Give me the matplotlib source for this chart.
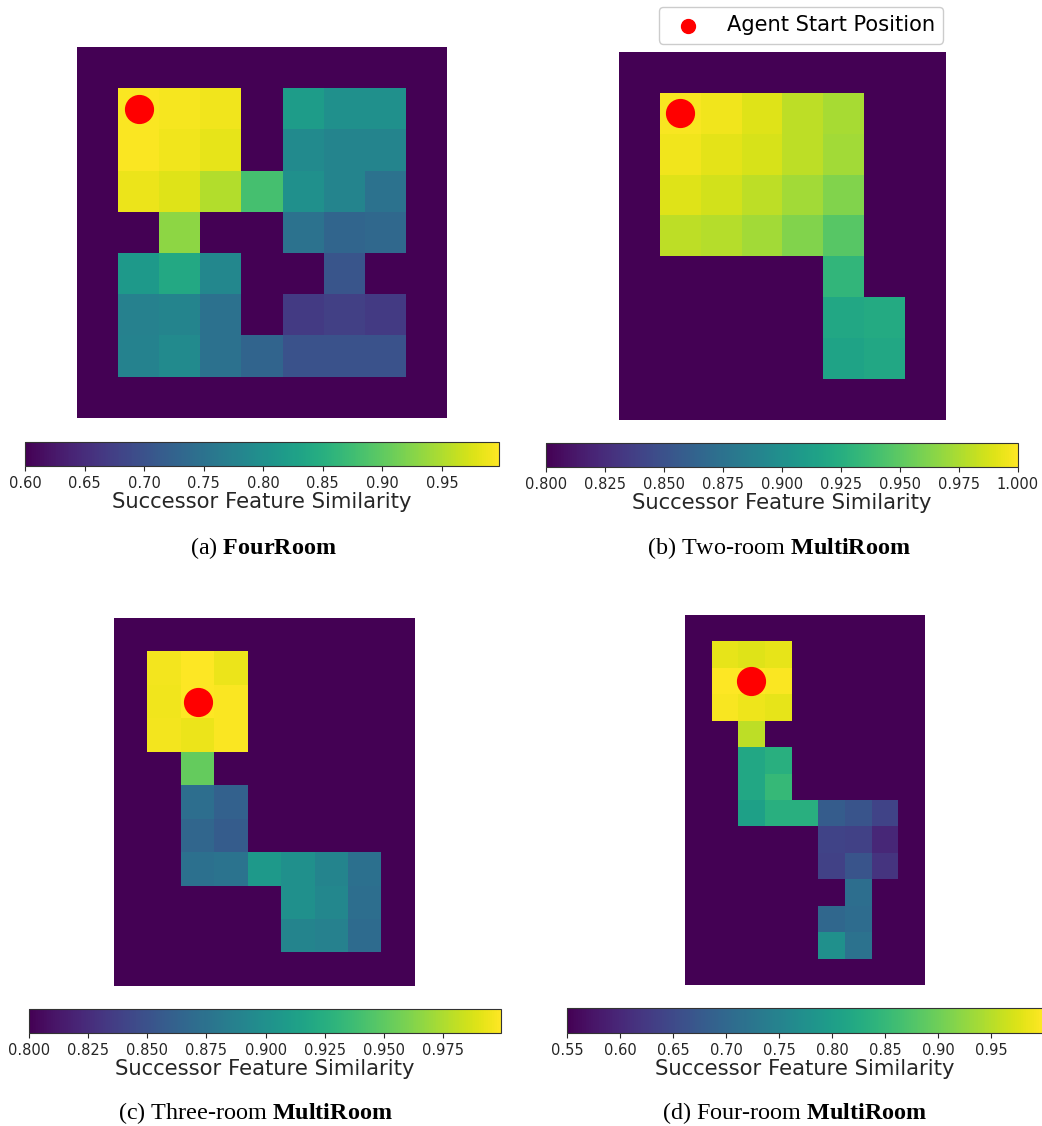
import matplotlib
matplotlib.use("Agg")
import matplotlib.pyplot as plt
import numpy as np

plt.rcParams['font.family'] = ['DejaVu Sans']
plt.rcParams['mathtext.fontset'] = 'custom'
plt.rcParams['mathtext.rm'] = 'Liberation Serif'
plt.rcParams['mathtext.bf'] = 'Liberation Serif:bold'

W = np.nan  # wall cell

# (a) FourRoom, 9x9
four_room = [
    [W, W, W, W, W, W, W, W, W],
    [W, 0.995, 0.992, 0.99, W, 0.82, 0.80, 0.80, W],
    [W, 0.995, 0.99, 0.984, W, 0.79, 0.78, 0.78, W],
    [W, 0.986, 0.978, 0.952, 0.88, 0.80, 0.78, 0.75, W],
    [W, W, 0.93, W, W, 0.75, 0.73, 0.735, W],
    [W, 0.815, 0.84, 0.785, W, W, 0.705, W, W],
    [W, 0.775, 0.78, 0.748, W, 0.668, 0.676, 0.668, W],
    [W, 0.777, 0.79, 0.748, 0.728, 0.70, 0.70, 0.70, W],
    [W, W, W, W, W, W, W, W, W],
]

# (b) Two-room MultiRoom, 9 rows x 8 cols
two_room = [
    [W, W, W, W, W, W, W, W],
    [W, 0.998, 0.996, 0.99, 0.98, 0.974, W, W],
    [W, 0.996, 0.992, 0.988, 0.98, 0.972, W, W],
    [W, 0.99, 0.986, 0.98, 0.972, 0.962, W, W],
    [W, 0.98, 0.978, 0.972, 0.962, 0.948, W, W],
    [W, W, W, W, W, 0.932, W, W],
    [W, W, W, W, W, 0.92, 0.922, W],
    [W, W, W, W, W, 0.916, 0.92, W],
    [W, W, W, W, W, W, W, W],
]

# (c) Three-room MultiRoom, 11 rows x 9 cols
three_room = [
    [W, W, W, W, W, W, W, W, W],
    [W, 0.996, 0.999, 0.994, W, W, W, W, W],
    [W, 0.995, 0.999, 0.998, W, W, W, W, W],
    [W, 0.996, 0.994, 0.998, W, W, W, W, W],
    [W, W, 0.952, W, W, W, W, W, W],
    [W, W, 0.872, 0.862, W, W, W, W, W],
    [W, W, 0.866, 0.858, W, W, W, W, W],
    [W, W, 0.874, 0.876, 0.908, 0.90, 0.89, 0.874, W],
    [W, W, W, W, W, 0.90, 0.892, 0.872, W],
    [W, W, W, W, W, 0.89, 0.888, 0.87, W],
    [W, W, W, W, W, W, W, W, W],
]

# (d) Four-room MultiRoom, 14 rows x 9 cols
four_room_multi = [
    [W, W, W, W, W, W, W, W, W],
    [W, 0.982, 0.977, 0.982, W, W, W, W, W],
    [W, 0.998, 0.999, 0.996, W, W, W, W, W],
    [W, 0.995, 0.987, 0.983, W, W, W, W, W],
    [W, W, 0.955, W, W, W, W, W, W],
    [W, W, 0.82, 0.834, W, W, W, W, W],
    [W, W, 0.82, 0.85, W, W, W, W, W],
    [W, W, 0.806, 0.834, 0.834, 0.68, 0.667, 0.64, W],
    [W, W, W, W, W, 0.64, 0.636, 0.60, W],
    [W, W, W, W, W, 0.636, 0.667, 0.618, W],
    [W, W, W, W, W, W, 0.712, W, W],
    [W, W, W, W, W, 0.70, 0.708, W, W],
    [W, W, W, W, W, 0.775, 0.72, W, W],
    [W, W, W, W, W, W, W, W, W],
]

grids = [four_room, two_room, three_room, four_room_multi]
vranges = [(0.60, 0.998), (0.80, 1.0), (0.80, 0.9995), (0.55, 0.999)]
ticks = [
    [0.60, 0.65, 0.70, 0.75, 0.80, 0.85, 0.90, 0.95],
    [0.800, 0.825, 0.850, 0.875, 0.900, 0.925, 0.950, 0.975, 1.000],
    [0.800, 0.825, 0.850, 0.875, 0.900, 0.925, 0.950, 0.975],
    [0.55, 0.60, 0.65, 0.70, 0.75, 0.80, 0.85, 0.90, 0.95],
]
tick_fmt = ['%.2f', '%.3f', '%.3f', '%.2f']
start_cells = [(1, 1), (1, 1), (2, 2), (2, 2)]  # (row, col)
captions = [
    r"(a) $\mathbf{FourRoom}$",
    r"(b) Two-room $\mathbf{MultiRoom}$",
    r"(c) Three-room $\mathbf{MultiRoom}$",
    r"(d) Four-room $\mathbf{MultiRoom}$",
]

# pixel boxes (x0, y0, x1, y1), top-left origin
img_boxes = [(77, 47, 447, 418), (619, 52, 946, 420), (114, 618, 415, 986), (685, 615, 924, 985)]
cb_boxes = [(25, 442, 499, 466), (546, 443, 1018, 467), (29, 1009, 501, 1033), (567, 1008, 1043, 1033)]
cap_pos = [(263, 548), (779, 548), (255, 1113), (795, 1113)]

FW, FH = 1042, 1126
fig = plt.figure(figsize=(FW / 100, FH / 100), dpi=100)


def box(b):
    x0, y0, x1, y1 = b
    return [x0 / FW, 1 - y1 / FH, (x1 - x0) / FW, (y1 - y0) / FH]


cmap = plt.get_cmap('viridis').copy()
cmap.set_bad(cmap(0.0))

for i in range(4):
    data = np.array(grids[i], dtype=float)
    vmin, vmax = vranges[i]
    ax = fig.add_axes(box(img_boxes[i]))
    im = ax.imshow(np.ma.masked_invalid(data), cmap=cmap, vmin=vmin, vmax=vmax,
                   interpolation='nearest', aspect='auto')
    r, c = start_cells[i]
    ax.scatter([c], [r], s=400, color='red', zorder=3, label='Agent Start Position')
    ax.set_axis_off()
    if i == 1:
        ax.legend(loc='lower center', bbox_to_anchor=(0.557, 1.0), fontsize=15.1,
                  markerscale=0.5, handletextpad=0.83, borderpad=0.4,
                  borderaxespad=0.4, framealpha=1, edgecolor='#cccccc')

    cax = fig.add_axes(box(cb_boxes[i]))
    cb = fig.colorbar(im, cax=cax, orientation='horizontal')
    cb.set_ticks(ticks[i])
    cb.ax.xaxis.set_major_formatter(matplotlib.ticker.FormatStrFormatter(tick_fmt[i]))
    cb.ax.tick_params(labelsize=10.5, colors='#262626', length=3.5, width=0.8)
    cb.set_label('Successor Feature Similarity', fontsize=15.2, color='#262626', labelpad=1)
    cb.outline.set_edgecolor('#333333')
    cb.outline.set_linewidth(0.8)

    x, y = cap_pos[i]
    fig.text(x / FW, 1 - y / FH, captions[i], ha='center', va='center',
             fontsize=17.4, family='Liberation Serif')

fig.savefig('out.png', dpi=100)
